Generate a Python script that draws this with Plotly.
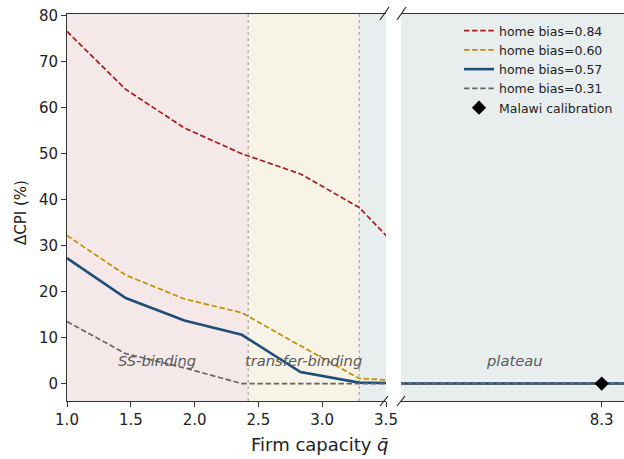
import plotly.graph_objects as go

# ---- data ----
q_grid = [1.0, 1.46, 1.92, 2.37, 2.83, 3.29, 3.75, 4.21, 4.67, 5.12, 5.58,
          6.04, 6.5, 6.96, 7.42, 7.87, 8.33, 8.79]
cpi_084 = [76.6, 64.0, 55.6, 50.0, 45.6, 38.3, 25.0, 0, 0, 0, 0, 0, 0, 0, 0, 0, 0, 0]
cpi_060 = [32.2, 23.6, 18.4, 15.4, 8.2, 1.1, 0.4, 0, 0, 0, 0, 0, 0, 0, 0, 0, 0, 0]
cpi_057 = [27.3, 18.6, 13.7, 10.6, 2.5, 0.2, 0, 0, 0, 0, 0, 0, 0, 0, 0, 0, 0, 0]
cpi_031 = [13.5, 6.5, 3.4, 0, 0, 0, 0, 0, 0, 0, 0, 0, 0, 0, 0, 0, 0, 0]
series_names = ["home bias=0.84", "home bias=0.60", "home bias=0.57", "home bias=0.31"]
calib_q = [8.3]
calib_cpi = [0.0]
regime_bounds = [1.0, 2.42, 3.29, 9.0]
regime_labels = ["SS-binding", "transfer-binding", "plateau"]
regime_label_x = [1.705, 2.85, 7.52]
left_ticks = [1.0, 1.5, 2.0, 2.5, 3.0, 3.5]
right_ticks = [8.3]
y_ticks = [0, 10, 20, 30, 40, 50, 60, 70, 80]

W, H = 624, 459
L, R, T, B = 67, 0, 14, 58
pw = W - L - R
ph = H - T - B
def px2x(px):
    return (px - L) / pw
def py2y(py):
    return (H - B - py) / ph

dom1 = [0, px2x(386)]
dom2 = [px2x(401), 1]

fig = go.Figure()

styles = [
    dict(color="#a61e1e", width=1.7, dash="5.5px,2.6px"),
    dict(color="#c48f00", width=1.7, dash="5.5px,2.6px"),
    dict(color="#1f4e79", width=2.6, dash="solid"),
    dict(color="#666666", width=1.7, dash="5.5px,2.6px"),
]
data = [cpi_084, cpi_060, cpi_057, cpi_031]
for name, ys, st in zip(series_names, data, styles):
    for ax, show in (("x", True), ("x2", False)):
        fig.add_trace(go.Scatter(
            x=q_grid, y=ys, mode="lines", name=name, line=st,
            xaxis=ax, yaxis="y" if ax == "x" else "y2",
            showlegend=show, legendgroup=name, cliponaxis=True))

fig.add_trace(go.Scatter(
    x=calib_q, y=calib_cpi, mode="markers", name="Malawi calibration",
    marker=dict(symbol="diamond", size=11, color="black"),
    xaxis="x2", yaxis="y2"))

shade_colors = ["#f5e8e8", "#f7f3e6", "#e8eeee"]
shapes = []
for i, c in enumerate(shade_colors):
    for xr in ("x", "x2"):
        shapes.append(dict(type="rect", xref=xr, yref="paper",
                           x0=regime_bounds[i], x1=regime_bounds[i + 1],
                           y0=0, y1=1, fillcolor=c, line=dict(width=0),
                           layer="below"))
for b in regime_bounds[1:3]:
    shapes.append(dict(type="line", xref="x", yref="paper", x0=b, x1=b,
                       y0=0, y1=1, line=dict(color="#999999", width=1, dash="dot"),
                       layer="below"))
# break marks
for x0 in (380, 397):
    shapes.append(dict(type="line", xref="paper", yref="paper",
                       x0=px2x(x0), x1=px2x(x0 + 9), y0=py2y(20), y1=py2y(7),
                       line=dict(color="#222222", width=1.2)))
    shapes.append(dict(type="line", xref="paper", yref="paper",
                       x0=px2x(x0), x1=px2x(x0 + 8), y0=py2y(406), y1=py2y(396),
                       line=dict(color="#222222", width=1.2)))

annotations = []
for lab, lx in zip(regime_labels, regime_label_x):
    annotations.append(dict(text="<i>" + lab + "</i>", x=lx, y=5,
                            xref="x" if lx < 3.5 else "x2",
                            yref="y" if lx < 3.5 else "y2",
                            xanchor="center", yanchor="middle",
                            showarrow=False, font=dict(size=14.7, color="#5a5a5a")))
annotations.append(dict(text="Firm capacity <i>q\u0304</i>", x=px2x(320), y=py2y(444),
                        xref="paper", yref="paper", showarrow=False,
                        xanchor="center", yanchor="middle",
                        font=dict(size=18, color="#222222")))
annotations.append(dict(text="\u0394CPI (%)", x=px2x(21), y=py2y(212),
                        xref="paper", yref="paper", showarrow=False, textangle=-90,
                        xanchor="center", yanchor="middle",
                        font=dict(size=15, color="#222222")))

axis_common = dict(showline=True, linecolor="#333333", linewidth=1, mirror=True,
                   ticks="outside", ticklen=5, tickcolor="#333333",
                   showgrid=False, zeroline=False, automargin=False,
                   tickfont=dict(size=15, color="#222222"))
yr = [-3.8, 80.4]

fig.update_layout(
    width=W, height=H,
    margin=dict(l=L, r=R, t=T, b=B, autoexpand=False),
    plot_bgcolor="white", paper_bgcolor="white",
    font=dict(family="DejaVu Sans"),
    xaxis=dict(domain=dom1, range=[1.0, 3.5], tickvals=left_ticks,
               ticktext=[f"{v:.1f}" for v in left_ticks], **axis_common),
    xaxis2=dict(domain=dom2, range=[6.5, 8.5], tickvals=right_ticks,
                ticktext=[f"{v:.1f}" for v in right_ticks], anchor="y2",
                **axis_common),
    yaxis=dict(range=yr, tickvals=y_ticks, showline=True, linecolor="#333333",
               linewidth=1, ticks="outside", ticklen=5, tickcolor="#333333",
               showgrid=False, zeroline=False, anchor="x", automargin=False,
               tickfont=dict(size=15, color="#222222")),
    yaxis2=dict(range=yr, anchor="x2", showticklabels=False, showline=False,
                ticks="", showgrid=False, zeroline=False, automargin=False),
    legend=dict(x=px2x(459), y=py2y(16), xanchor="left", yanchor="top", xref="paper",
                yref="paper",
                bgcolor="rgba(0,0,0,0)", font=dict(size=12.5, color="#222222"),
                tracegroupgap=0, itemwidth=30),
    shapes=shapes, annotations=annotations,
)

fig.write_html("out.html", config={"displayModeBar": False},
               post_script="document.body.style.margin='0px';")
